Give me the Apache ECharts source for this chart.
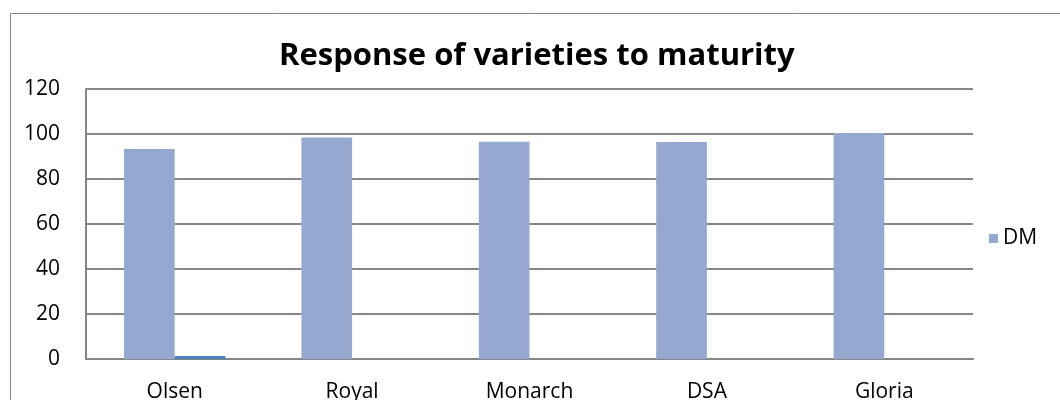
<!DOCTYPE html>
<html>
<head>
<meta charset="utf-8">
<script src="https://cdn.jsdelivr.net/npm/echarts@6/dist/echarts.min.js"></script>
<style>
  body { margin: 0; background: #fff; }
  #main { width: 1060px; height: 400px; }
</style>
</head>
<body>
<div id="main"></div>
<script>
const varieties = ['Olsen', 'Royal', 'Monarch', 'DSA', 'Gloria']
const dmValues = [93.3, 98.4, 96.6, 96.4, 100.4]
const otherValues = [1.3, 0, 0, 0, 0]
const yTicks = [0, 20, 40, 60, 80, 100, 120]

const chart = echarts.init(document.getElementById('main'))
const font = '"Open Sans", sans-serif'

const option = {
  animation: false,
  backgroundColor: '#fff',
  title: {
    text: 'Response of varieties to maturity',
    left: 279,
    top: 41,
    padding: 0,
    textStyle: { fontFamily: font, fontSize: 31, fontWeight: 'bold', color: '#000' }
  },
  legend: {
    data: ['DM'],
    left: 984,
    top: 223,
    itemWidth: 9,
    itemHeight: 9,
    itemGap: 5,
    icon: 'rect',
    textStyle: { fontFamily: font, fontSize: 21, color: '#000' }
  },
  graphic: [{
    type: 'rect',
    shape: { x: 10.5, y: 13.5, width: 1100, height: 500 },
    style: { fill: 'none', stroke: '#868686', lineWidth: 1 },
    silent: true
  }],
  grid: { left: 86, right: 87, top: 89, bottom: 41, outerBoundsMode: 'none' },
  xAxis: {
    type: 'category',
    data: varieties,
    axisTick: { show: false },
    axisLine: { lineStyle: { color: '#868686', width: 2 } },
    axisLabel: { margin: 23, fontFamily: font, fontSize: 21, color: '#000' }
  },
  yAxis: {
    type: 'value',
    min: yTicks[0],
    max: yTicks[yTicks.length - 1],
    interval: 20,
    axisLine: { show: true, lineStyle: { color: '#868686', width: 2 } },
    axisTick: { show: false },
    splitLine: { lineStyle: { color: '#868686', width: 2 } },
    axisLabel: { margin: 26, fontFamily: font, fontSize: 21, color: '#000' }
  },
  series: [
    {
      name: 'DM',
      type: 'bar',
      data: dmValues,
      barGap: '0%',
      barCategoryGap: '42.86%',
      itemStyle: { color: '#95A9D0' }
    },
    {
      name: '',
      type: 'bar',
      data: otherValues,
      itemStyle: { color: '#4F81BD' }
    }
  ]
}

chart.setOption(option)
</script>
</body>
</html>
